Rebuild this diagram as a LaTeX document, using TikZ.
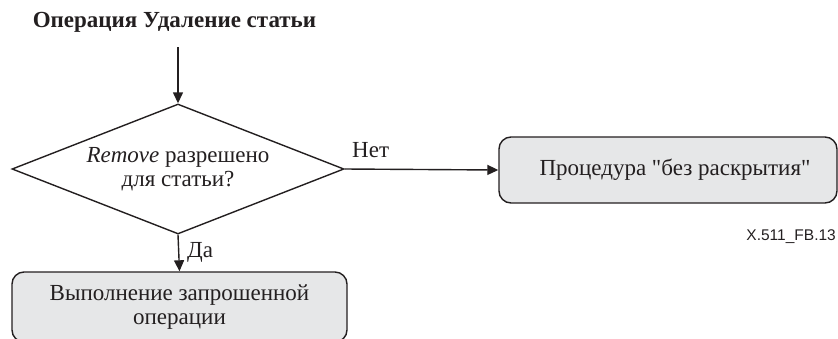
\documentclass[tikz,border=0pt]{standalone}
\usepackage{fontspec}
\setmainfont{Liberation Serif}[Ligatures=TeXOff]
\newfontfamily\labelsans{Liberation Sans}
\usetikzlibrary{shapes.geometric,arrows.meta}
\definecolor{ink}{HTML}{231F20}
\definecolor{boxfill}{HTML}{E6E7E8}
\newcommand{\fsmain}{\fontsize{23}{24}\selectfont}
\tikzset{
  flowline/.style={draw=ink, line width=1.4pt},
  flowarrow/.style={flowline, -{Triangle[length=11pt,width=10pt]}},
  procbox/.style={draw=ink, line width=1.4pt, fill=boxfill, rounded corners=12pt,
    align=center, inner sep=0pt, text=ink, font=\fsmain},
  decision/.style={draw=ink, line width=1.4pt, diamond, aspect=2.554,
    minimum width=332pt, minimum height=130pt, inner sep=0pt, align=center,
    text=ink, font=\fsmain},
  plainlabel/.style={text=ink, inner sep=0pt, font=\fsmain},
}
\begin{document}
\begin{tikzpicture}[x=1pt,y=-1pt]
  \useasboundingbox (0,0) rectangle (838,338);
  % heading
  \node[plainlabel, font=\fontsize{23}{24}\selectfont\bfseries] (title) at (174.5,22) {Операция Удаление статьи};
  \coordinate (entry) at (178,47);
  % decision
  \node[decision] (q) at (178,169) {\textit{Remove} разрешено\\для статьи?};
  % outcomes
  \node[procbox, minimum width=338pt, minimum height=66pt] (noproc) at (668,170)
    {\hspace*{14pt}Процедура "без раскрытия"};
  \node[procbox, minimum width=335pt, minimum height=70pt] (doop) at (179.5,307)
    {Выполнение запрошенной\\операции};
  % connectors
  \draw[flowarrow] (entry) -- (q.north);
  \draw[flowarrow] (q.east) -- (noproc.west);
  \draw[flowarrow] (q.south) -- (doop.north);
  % branch labels
  \node[plainlabel, anchor=west] (no) at (352,150) {Нет};
  \node[plainlabel, anchor=west] (yes) at (187,252) {Да};
  % figure id
  \node[text=ink, inner sep=0pt, anchor=east, font=\labelsans\fontsize{15.5}{18}\selectfont] (figid) at (836,237) {X.511\_FB.13};
\end{tikzpicture}
\end{document}
